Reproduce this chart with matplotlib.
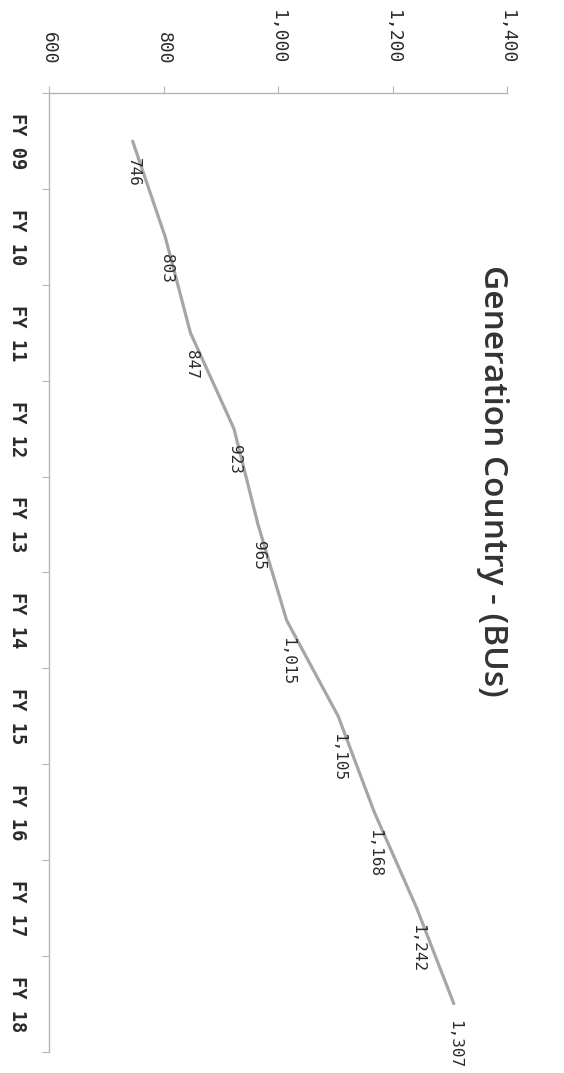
import numpy as np
import matplotlib.pyplot as plt


YEARS = ["FY 09", "FY 10", "FY 11", "FY 12", "FY 13",
         "FY 14", "FY 15", "FY 16", "FY 17", "FY 18"]
BUS = [746, 803, 847, 923, 965, 1015, 1105, 1168, 1242, 1307]
VALUE_TICKS = [600, 800, 1000, 1200, 1400]
TITLE = "Generation Country - (BUs)"

LINE_COLOUR = "#a6a6a6"
AXIS_COLOUR = "#b5b5b5"
TEXT_COLOUR = "#2a2a2a"
MONO = "DejaVu Sans Mono"


def main():
    fig = plt.figure(figsize=(5.64, 10.73), dpi=100)
    # chart is drawn turned a quarter clockwise: values run left to right,
    # years run top to bottom, all text reads downwards
    ax = fig.add_axes([0.087, 0.02, 0.812, 0.893])
    pos = np.arange(len(YEARS))

    ax.plot(BUS, pos, color=LINE_COLOUR, lw=2.3, solid_capstyle="round")
    for v, p in zip(BUS, pos):
        ax.annotate(f"{v:,}", (v, p), xytext=(6, -12), textcoords="offset points",
                    rotation=-90, ha="right", va="top", fontsize=11.5,
                    family=MONO, color=TEXT_COLOUR)

    ax.set_xlim(VALUE_TICKS[0], VALUE_TICKS[-1])
    ax.set_ylim(len(YEARS) - 0.5, -0.5)

    # value axis along the top
    ax.xaxis.tick_top()
    ax.set_xticks(VALUE_TICKS)
    ax.set_xticklabels([f"{t:,}" for t in VALUE_TICKS], rotation=-90,
                       family=MONO, fontsize=13, color=TEXT_COLOUR)
    ax.tick_params(axis="x", length=5, width=0.8, color=AXIS_COLOUR, pad=16)

    # year axis on the left, ticks between categories
    ax.set_yticks(np.arange(len(YEARS) + 1) - 0.5)
    ax.set_yticklabels([])
    ax.set_yticks(pos, minor=True)
    ax.set_yticklabels(YEARS, minor=True, rotation=-90, family=MONO,
                       fontsize=13.5, fontweight="bold", color=TEXT_COLOUR,
                       va="center")
    ax.tick_params(axis="y", which="major", length=5, width=0.8, color=AXIS_COLOUR)
    ax.tick_params(axis="y", which="minor", length=0, pad=16)

    for side in ("right", "bottom"):
        ax.spines[side].set_visible(False)
    for side in ("left", "top"):
        ax.spines[side].set_color(AXIS_COLOUR)
        ax.spines[side].set_linewidth(1.0)

    fig.text(0.873, 0.552, TITLE, rotation=-90, ha="center", va="center",
             family=["Open Sans", "DejaVu Sans"], fontsize=24, fontweight="semibold",
             color="#333333")

    fig.savefig("out.png", dpi=100, facecolor="white")


if __name__ == "__main__":
    main()
